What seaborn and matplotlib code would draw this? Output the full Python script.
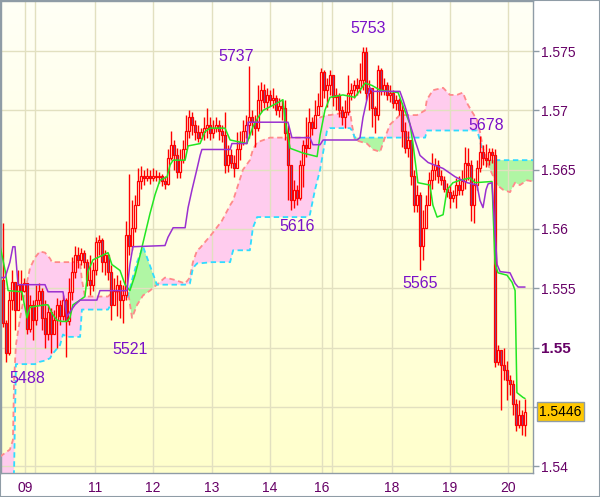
import numpy as np
import matplotlib
matplotlib.use("Agg")
import matplotlib.pyplot as plt
import seaborn as sns
from matplotlib.colors import LinearSegmentedColormap
from matplotlib.transforms import blended_transform_factory
from matplotlib.patches import Rectangle

# ---------------- data (prices as 4-digit pips: 5488 -> 1.5488) ----------------
FIRST_OPEN = 5557
CLOSE = [5521,5495,5540,5555,5532,5553,5548,5554,5516,5536,
         5523,5540,5548,5525,5511,5530,5511,5523,5536,5527,
         5540,5522,5547,5564,5578,5574,5580,5572,5557,5553,
         5565,5589,5591,5572,5578,5564,5536,5548,5553,5540,
         5544,5595,5586,5601,5620,5640,5645,5643,5645,5643,
         5645,5644,5645,5640,5638,5660,5671,5662,5648,5658,
         5667,5683,5694,5688,5682,5677,5682,5685,5688,5681,
         5685,5688,5683,5679,5654,5662,5656,5651,5667,5673,
         5683,5688,5694,5690,5685,5709,5717,5707,5713,5709,
         5710,5700,5704,5702,5681,5654,5624,5633,5626,5654,
         5671,5668,5690,5685,5696,5704,5732,5717,5721,5730,
         5711,5713,5700,5694,5699,5715,5717,5721,5719,5726,
         5749,5715,5719,5702,5696,5734,5717,5721,5713,5715,
         5706,5709,5700,5683,5668,5675,5645,5620,5629,5586,
         5601,5620,5641,5650,5654,5645,5641,5634,5631,5626,
         5629,5637,5633,5640,5656,5654,5620,5637,5651,5665,
         5660,5658,5665,5662,5488,5498,5485,5481,5473,5469,
         5452,5435,5443,5435,5446]
HIGH = [5605,5523,5548,5565,5548,5565,5565,5559,5554,5544,
        5540,5553,5554,5550,5540,5536,5533,5532,5542,5540,
        5544,5542,5559,5576,5586,5585,5584,5582,5575,5578,
        5572,5593,5595,5592,5582,5580,5570,5559,5561,5557,
        5553,5607,5646,5624,5629,5651,5653,5650,5651,5650,
        5651,5650,5648,5646,5645,5667,5683,5675,5668,5667,
        5675,5696,5700,5699,5692,5688,5685,5694,5702,5694,
        5692,5694,5692,5688,5699,5671,5667,5662,5682,5683,
        5692,5696,5737,5700,5696,5721,5724,5722,5719,5717,
        5719,5713,5710,5709,5709,5688,5654,5641,5637,5658,
        5675,5694,5702,5694,5709,5715,5736,5734,5727,5734,
        5730,5719,5715,5704,5709,5730,5723,5726,5727,5740,
        5753,5753,5726,5715,5704,5738,5736,5727,5724,5721,
        5717,5713,5710,5706,5690,5683,5675,5650,5637,5631,
        5616,5629,5648,5664,5660,5658,5650,5645,5639,5637,
        5633,5643,5645,5650,5669,5668,5658,5643,5658,5678,
        5671,5672,5668,5668,5667,5502,5496,5500,5489,5477,
        5473,5457,5456,5447,5457]
LOW = [5517,5488,5494,5532,5515,5536,5540,5547,5511,5513,
       5506,5519,5536,5515,5500,5506,5495,5511,5500,5519,
       5523,5492,5519,5540,5559,5567,5570,5567,5552,5544,
       5548,5561,5578,5564,5561,5557,5523,5536,5527,5525,
       5521,5540,5578,5582,5597,5620,5634,5637,5640,5638,
       5640,5640,5639,5636,5634,5637,5658,5650,5643,5643,
       5656,5667,5677,5679,5675,5673,5675,5675,5677,5675,
       5677,5682,5675,5673,5647,5648,5651,5644,5656,5658,
       5671,5677,5677,5679,5669,5683,5699,5702,5700,5704,
       5702,5696,5694,5692,5675,5624,5616,5618,5620,5624,
       5635,5661,5671,5679,5688,5696,5709,5710,5703,5713,
       5704,5700,5694,5688,5685,5696,5709,5710,5713,5715,
       5717,5709,5700,5686,5681,5692,5713,5713,5709,5707,
       5702,5700,5696,5669,5664,5661,5637,5614,5614,5565,
       5574,5603,5624,5634,5641,5639,5637,5631,5627,5618,
       5623,5618,5629,5629,5634,5641,5607,5605,5633,5648,
       5654,5652,5654,5656,5484,5485,5447,5473,5456,5460,
       5443,5430,5432,5426,5425]

TENKAN_BAR = [-1,0.7,1.7,6.3,7.3,8,9,14,15,16.3,18,19.7,21.3,22.3,23.3,25.7,27.3,28.3,30,31.7,
              35,36.3,39,40.7,42.3,44,45.7,47.3,49,50.7,52.3,54.7,55.7,56.7,60.7,61.7,65.7,67.3,69,74,
              75.7,81.3,83.3,85,86.7,89,91.3,93.3,94,95.7,100,104.7,105.7,107.3,109,113.3,117.3,119,120.7,123,
              125.7,131.7,133.3,135.7,136.7,138.3,142.3,143.3,144.7,146.7,148,150,152.3,155.7,157.3,163,164,165,168,169.7,
              170.7,171.3,173.3,174]
TENKAN = [5586,5565,5548,5547,5534,5525,5534,5536,5536,5529,5523,5522,5522,5525,5536,5540,5543,5564,5574,5576,
          5580,5570,5565,5553,5548,5561,5578,5595,5613,5629,5641,5644,5654,5658,5658,5670,5672,5682,5685,5685,
          5675,5672,5686,5694,5700,5703,5706,5709,5692,5668,5664,5661,5679,5700,5711,5713,5711,5717,5723,5721,
          5717,5715,5704,5688,5671,5639,5637,5620,5610,5612,5633,5639,5641,5643,5639,5640,5571,5563,5561,5555,
          5548,5462,5458,5457]

KIJUN_BAR = [-1,0.7,2.3,3.3,4,5,14,15,20,21.3,22.3,24,25.7,31.3,32.3,41.3,42.3,43.3,54,55,
             56.7,60.7,61.7,63,64.7,65.7,66.3,75.7,76.3,81.3,81.7,95,96.3,102.3,103.3,105.7,106.7,118,119,120,
             121.3,122.3,123.3,132.3,133.3,134.7,135.7,137.3,139,141.7,146.7,150.7,154.7,158,159,160,161,161.7,163,164.7,
             165.7,169,170.7,171.7,174]
KIJUN = [5559,5559,5572,5585,5585,5553,5553,5547,5547,5526,5530,5536,5540,5540,5548,5548,5570,5585,5586,5593,
         5601,5601,5618,5633,5651,5662,5667,5667,5672,5672,5690,5690,5677,5677,5671,5671,5675,5675,5677,5694,
         5709,5719,5716,5716,5709,5698,5688,5675,5662,5656,5651,5644,5639,5637,5624,5618,5633,5638,5639,5570,
         5564,5563,5554,5551,5551]

CLOUD_BAR = [-1,2.3,3.3,3.7,4.3,5.7,7.3,9,10.7,12.3,14,15.7,16.3,19,20,21.3,25.7,26.3,27.3,35,
             36.3,38,40.7,41.7,43,44.7,46.7,49,51.3,54,57.3,60.7,62.3,63.3,64.7,65.7,69.7,73,75.7,76.7,
             80,82.3,83.3,84.7,89,101.3,102.3,104,105.7,108,109,111.3,115.7,116.3,117.3,121.3,123.3,125.7,127.3,129,
             132.3,138,140.7,141.3,143.3,146.7,149,151.3,153.3,154.7,156.3,158,159,160,161.7,164.7,166.7,169,170.7,172.3,
             174.7,176.7]
SPAN_A = [5408,5414,5422,5473,5502,5525,5547,5567,5576,5581,5580,5575,5572,5572,5572,5572,5572,5557,5543,5543,
          5546,5547,5548,5547,5525,5536,5544,5548,5553,5559,5557,5554,5559,5572,5582,5584,5596,5607,5620,5624,
          5650,5658,5667,5673,5677,5677,5683,5692,5694,5696,5696,5697,5699,5688,5675,5672,5667,5665,5677,5688,
          5696,5696,5700,5709,5717,5719,5713,5713,5715,5706,5699,5692,5682,5668,5654,5637,5633,5631,5639,5637,
          5641,5640]
SPAN_B = [5380,5380,5380,5397,5486,5486,5486,5486,5486,5488,5489,5491,5494,5502,5511,5509,5509,5532,5532,5532,
          5538,5540,5540,5544,5557,5572,5585,5569,5553,5553,5553,5553,5554,5567,5571,5571,5572,5572,5572,5582,
          5582,5582,5601,5610,5610,5610,5612,5633,5650,5683,5685,5685,5685,5683,5677,5677,5677,5677,5677,5677,
          5677,5677,5677,5683,5683,5683,5683,5683,5683,5683,5683,5683,5675,5661,5658,5658,5658,5658,5658,5658,
          5658,5658]

DAY_TICKS = [7.3, 30.7, 50, 69.7, 89, 106.3, 129.7, 149, 168.3]
DAY_LABELS = ["09", "11", "12", "13", "14", "16", "18", "19", "20"]
EXTRA_DAY_LINES = [10.7, 109.7]
PRICE_TICKS = [1.54, 1.545, 1.55, 1.555, 1.56, 1.565, 1.57, 1.575]
PRICE_LABELS = ["1.54", "1.545", "1.55", "1.555", "1.56", "1.565", "1.57", "1.575"]
LAST_PRICE = 1.5446
LAST_LABEL = "1.5446"

LABEL_TEXT = ["5488", "5521", "5737", "5616", "5753", "5565", "5678"]
LABEL_BAR = [8, 42.3, 77.7, 98, 121.7, 139, 161]
LABEL_LEVEL = [5474, 5498, 5745, 5602, 5769, 5554, 5687]


def price(v):
    return 1.0 + np.asarray(v, dtype=float) / 10000.0


# ---------------- styling ----------------
sns.set_style("white")
plt.rcParams["font.family"] = ["Liberation Sans", "DejaVu Sans"]

W, H = 600, 497
fig = plt.figure(figsize=(W / 100, H / 100), dpi=100)
fig.patch.set_facecolor("white")
ax = fig.add_axes([1 / W, 1 - 473 / H, 532 / W, 472 / H])

x0, x1 = -0.667, 176.667
y0, y1 = 1.53942, 1.57922

# gradient background
cmap = LinearSegmentedColormap.from_list("bg", ["#fffff6", "#ffffcc"])
ax.imshow(np.linspace(0, 1, 256).reshape(-1, 1), extent=[x0, x1, y0, y1],
          aspect="auto", cmap=cmap, zorder=0, interpolation="bilinear")

# cloud
cb = np.array(CLOUD_BAR)
sa = price(SPAN_A)
sb = price(SPAN_B)
ax.fill_between(cb, sa, sb, where=sa >= sb, interpolate=True,
                color="#ffccee", lw=0, zorder=1)
ax.fill_between(cb, sa, sb, where=sa < sb, interpolate=True,
                color="#b0f6a4", lw=0, zorder=1)

# grid
grid_c = "#e2e0c0"
for t in PRICE_TICKS:
    ax.axhline(t, color=grid_c, lw=1.0, zorder=1.5)
for t in DAY_TICKS + EXTRA_DAY_LINES:
    ax.axvline(t, color=grid_c, lw=1.0, zorder=1.5)

ax.plot(cb, sa, color="#ff8a8a", lw=1.3, ls=(0, (3, 2)), zorder=3)
ax.plot(cb, sb, color="#30dcff", lw=1.3, ls=(0, (3, 2)), zorder=3)

# candles
c = price(CLOSE)
o = np.concatenate([[price(FIRST_OPEN)], c[:-1]])
hi = np.maximum(price(HIGH), np.maximum(o, c))
lo = np.minimum(price(LOW), np.minimum(o, c))
idx = np.arange(len(c))
ax.vlines(idx, lo, hi, color="#ff0000", lw=1.0, zorder=4)
bear = c < o
bottom = np.minimum(o, c)
height = np.maximum(np.abs(c - o), 0.00004)
ax.bar(idx[bear], height[bear], bottom=bottom[bear], width=0.62,
       color="#6c60a8", edgecolor="#ff0000", linewidth=0.9, zorder=4)
ax.bar(idx[~bear], height[~bear], bottom=bottom[~bear], width=0.62,
       color="#fffff0", edgecolor="#ff0000", linewidth=0.9, zorder=4)

# tenkan / kijun
sns.lineplot(x=np.array(TENKAN_BAR), y=price(TENKAN), ax=ax, color="#22e622",
             linewidth=1.1, zorder=5, sort=False, errorbar=None)
sns.lineplot(x=np.array(KIJUN_BAR), y=price(KIJUN), ax=ax, color="#9a30d0",
             linewidth=1.1, zorder=5, sort=False, errorbar=None)

# extreme labels
for t, b, lv in zip(LABEL_TEXT, LABEL_BAR, LABEL_LEVEL):
    ax.text(b, price(lv), t, color="#7a10c8", fontsize=11.5,
            ha="center", va="center", zorder=6)

ax.set_xlim(x0, x1)
ax.set_ylim(y0, y1)

# axes
spine_c = "#8f9ca6"
for s in ax.spines.values():
    s.set_color(spine_c)
    s.set_linewidth(1.0)
    s.set_visible(True)

ax.yaxis.tick_right()
ax.set_yticks(PRICE_TICKS)
ax.set_yticklabels(PRICE_LABELS)
ax.tick_params(axis="y", which="both", direction="out", length=4, width=1,
               color=spine_c, labelcolor="#660066", labelsize=10, pad=2,
               left=False, right=True)
for lbl in ax.get_yticklabels():
    if lbl.get_text() == "1.55":
        lbl.set_fontweight("bold")
        lbl.set_fontsize(11)

ax.set_xticks(DAY_TICKS)
ax.set_xticklabels(DAY_LABELS)
ax.tick_params(axis="x", direction="out", length=3, width=1, color=spine_c,
               labelcolor="#660066", labelsize=10, pad=3)
ax.set_xlabel("")
ax.set_ylabel("")

# last price box
trans = blended_transform_factory(ax.transAxes, ax.transData)
ax.text(1.0115, LAST_PRICE, LAST_LABEL, transform=trans, ha="left", va="center",
        fontsize=10, color="black", zorder=10, clip_on=False,
        bbox=dict(boxstyle="square,pad=0.18", fc="#ffc800", ec=spine_c, lw=1))

fig.patches.append(Rectangle((0, 0), 1, 1, transform=fig.transFigure,
                             fill=False, edgecolor=spine_c, lw=1.5))

fig.savefig("out.png", dpi=100)
